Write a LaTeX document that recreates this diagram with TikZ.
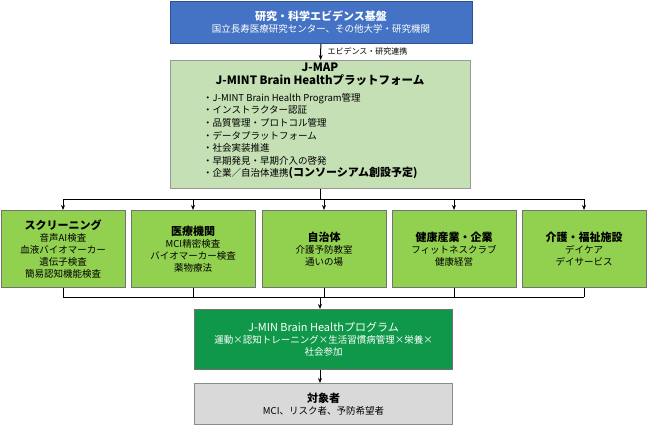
\documentclass[tikz,border=0pt]{standalone}
\usepackage{fontspec}
\setmainfont{Noto Sans CJK JP}
\usetikzlibrary{arrows.meta, positioning}
\definecolor{evblue}{HTML}{4472C4}
\definecolor{mapgreen}{HTML}{C5E0B4}
\definecolor{leafgreen}{HTML}{92D050}
\definecolor{progreen}{HTML}{10984A}
\definecolor{tgtgray}{HTML}{D9D9D9}
\newcommand{\hd}[1]{{\fontsize{11}{13}\selectfont\bfseries #1}}

\begin{document}
\begin{tikzpicture}[
        x=1pt, y=-1pt,
        % 共通の箱
        box/.style={
                rectangle,
                draw=black!55,
                line width=0.8pt,
                align=center,
                font=\fontsize{9.5}{12}\selectfont,
                inner sep=2pt
            },
        % 分類箱
        leaf/.style={
                box,
                fill=leafgreen,
                minimum width=124pt,
                minimum height=77pt,
                anchor=north
            },
        % 矢印
        arrow/.style={
                -{Stealth[length=5pt,width=4pt]},
                line width=1pt
            },
        wire/.style={line width=1pt}
    ]
    \useasboundingbox (0,0) rectangle (660,425);

    % 研究基盤
    \node[box, fill=evblue, draw=evblue!70!black, text=white, minimum width=302pt, minimum height=42pt, anchor=north] (base) at (321,1)
        {\hd{研究・科学エビデンス基盤}\\国立長寿医療研究センター、その他大学・研究機関};

    % J-MAP
    \node[box, fill=mapgreen, draw=black!40, minimum width=300pt, minimum height=128pt, anchor=north] (jmap) at (320,60) {};
    \node[anchor=north, align=center, inner sep=0pt, font=\fontsize{11.5}{13}\selectfont\bfseries] (jmaphead) at (320,63)
        {J-MAP\\J-MINT Brain Healthプラットフォーム};
    \node[anchor=north west, align=left, inner sep=0pt, font=\fontsize{9.5}{12.6}\selectfont] (jmaplist) at (203,93)
        {・J-MINT Brain Health Program管理\\
        ・インストラクター認証\\
        ・品質管理・プロトコル管理\\
        ・データプラットフォーム\\
        ・社会実装推進\\
        ・早期発見・早期介入の啓発\\
        ・企業／自治体連携\hd{(コンソーシアム創設予定)}};

    \draw[arrow] (base) -- (jmap) node[midway, right=3pt, font=\fontsize{8}{10}\selectfont] (link) {エビデンス・研究連携};

    % 分類箱
    \node[leaf] (screen) at (63,210) {\hd{スクリーニング}\\音声AI検査\\血液バイオマーカー\\遺伝子検査\\簡易認知機能検査};
    \node[leaf] (clinic) at (193,210) {\hd{医療機関}\\MCI精密検査\\バイオマーカー検査\\薬物療法};
    \node[leaf] (city) at (324,210) {\hd{自治体}\\介護予防教室\\通いの場};
    \node[leaf] (biz) at (454,210) {\hd{健康産業・企業}\\フィットネスクラブ\\健康経営};
    \node[leaf] (care) at (584,210) {\hd{介護・福祉施設}\\デイケア\\デイサービス};

    % プログラム
    \node[box, fill=progreen, text=white, minimum width=258pt, minimum height=60pt, anchor=north] (prog) at (323.5,309)
        {{\fontsize{11}{13}\selectfont J-MIN Brain Healthプログラム}\\運動×認知トレーニング×生活習慣病管理×栄養×\\社会参加};

    % 対象者
    \node[box, fill=tgtgray, draw=black!45, minimum width=258pt, minimum height=41pt, anchor=north] (target) at (323.5,383)
        {\hd{対象者}\\MCI、リスク者、予防希望者};

    % 分岐線
    \coordinate (top) at (320,199);
    \coordinate (bot) at (320,297);
    \draw[wire] (jmap.south -| top) -- (top);
    \draw[wire] (screen.north |- top) -- (care.north |- top);
    \foreach \n in {screen,clinic,city,biz,care} {
        \draw[arrow] (\n.north |- top) -- (\n.north);
        \draw[wire] (\n.south) -- (\n.south |- bot);
    }
    \draw[wire] (screen.south |- bot) -- (care.south |- bot);
    \draw[arrow] (bot) -- (prog.north -| bot);
    \draw[arrow] (prog.south -| bot) -- (target.north -| bot);
\end{tikzpicture}
\end{document}
